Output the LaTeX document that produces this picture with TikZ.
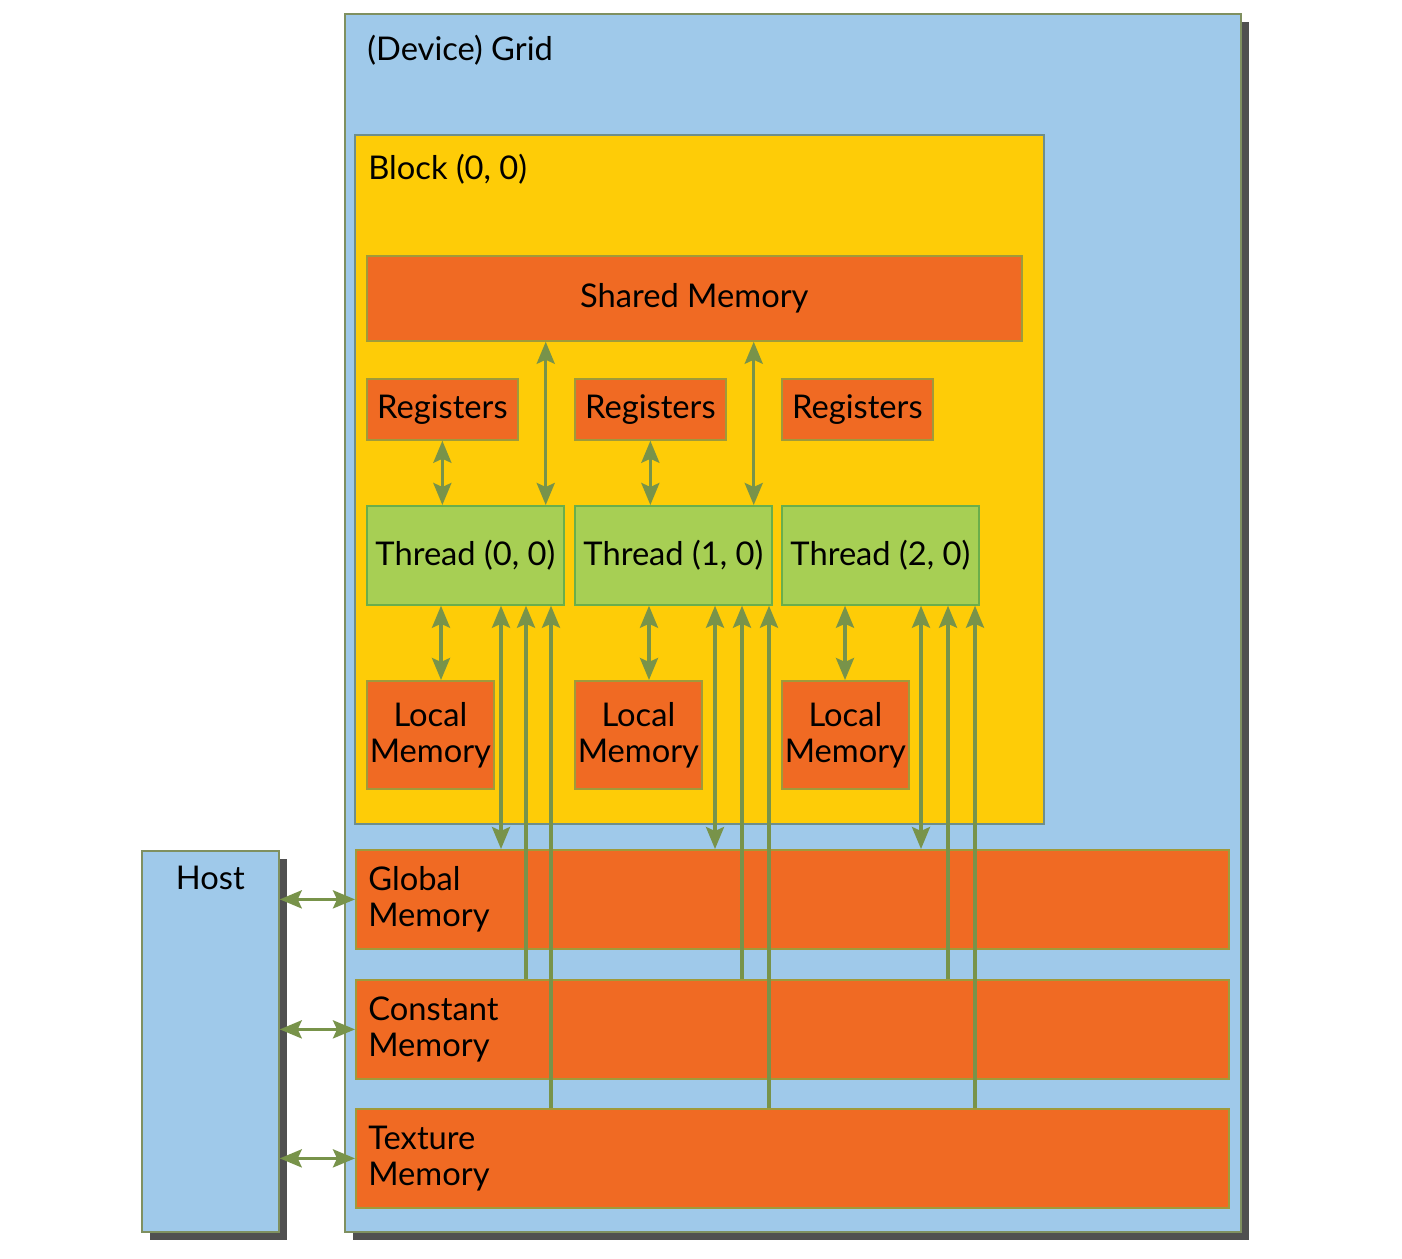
\documentclass[tikz,border=0pt]{standalone}
\usepackage{fontspec}
\setmainfont{Lato}
\usetikzlibrary{arrows.meta,shadows}

\definecolor{gridblue}{HTML}{9FC9EA}
\definecolor{gridedge}{HTML}{7F9060}
\definecolor{blockyellow}{HTML}{FECC07}
\definecolor{blockedge}{HTML}{6F8E8A}
\definecolor{memorange}{HTML}{F06A23}
\definecolor{memedge}{HTML}{A09A3A}
\definecolor{threadgreen}{HTML}{A7CF54}
\definecolor{threadedge}{HTML}{6AAE4B}
\definecolor{arrowgreen}{HTML}{78934A}
\definecolor{shadowgray}{HTML}{505050}

\begin{document}
\begin{tikzpicture}[
  x=0.02cm, y=-0.02cm,
  every node/.style={font=\fontsize{18.6}{20.5}\selectfont},
  frame/.style={draw, line width=1pt, rectangle, anchor=north west, inner sep=0pt},
  dark shadow/.style={drop shadow={shadow xshift=0.16cm, shadow yshift=-0.16cm, fill=shadowgray, opacity=1}},
  area/.style={frame, fill=gridblue, draw=gridedge},
  memory/.style={frame, fill=memorange, draw=memedge},
  thread/.style={frame, fill=threadgreen, draw=threadedge},
  lbl/.style={anchor=west, align=left, inner sep=0pt},
  tip/.tip={Stealth[length=0.44cm, width=0.36cm, inset=0.08cm]},
  dbl/.style={tip-tip, draw=arrowgreen, fill=arrowgreen, line width=1.9pt},
  one/.style={-tip, draw=arrowgreen, fill=arrowgreen, line width=1.9pt}
]
\useasboundingbox (0,0) rectangle (1402,1258);

% outer boxes
\node[area, dark shadow, minimum width=17.92cm, minimum height=24.36cm] (grid) at (344,13) {};
\node[area, dark shadow, minimum width=2.74cm, minimum height=7.62cm] (host) at (141,850) {};
\node[frame, fill=blockyellow, draw=blockedge, minimum width=13.78cm, minimum height=13.78cm] (block) at (354,134) {};

\node[lbl] (gridlbl) at ([shift={(23,37)}]grid.north west) {(Device) Grid};
\node[lbl] (blocklbl) at ([shift={(14,35)}]block.north west) {Block (0, 0)};
\node (hostlbl) at ([shift={(0,28)}]host.north) {Host};

% memories inside the block
\node[memory, minimum width=13.1cm, minimum height=1.7cm] (shared) at (366,255) {Shared Memory};
\foreach \i/\x in {0/366, 1/574, 2/781} {
  \node[memory, minimum width=3.02cm, minimum height=1.22cm] (reg\i) at (\x,378) {Registers};
  \node[thread, minimum width=3.94cm, minimum height=1.98cm] (thr\i) at (\x,505) {Thread (\i, 0)};
  \node[memory, align=center, minimum width=2.54cm, minimum height=2.16cm] (loc\i) at (\x,680) {Local\\Memory};
}

% device memories
\node[memory, minimum width=17.46cm, minimum height=1.98cm] (glob) at (355,849) {};
\node[memory, minimum width=17.46cm, minimum height=1.98cm] (const) at (355,979) {};
\node[memory, minimum width=17.46cm, minimum height=1.98cm] (tex) at (355,1108) {};
\node[lbl] (globlbl) at ([shift={(13,0)}]glob.west) {Global\\Memory};
\node[lbl] (constlbl) at ([shift={(13,0)}]const.west) {Constant\\Memory};
\node[lbl] (texlbl) at ([shift={(13,0)}]tex.west) {Texture\\Memory};

% connectors
\foreach \i in {0,1} {
  \draw[dbl] (reg\i.south) -- (reg\i.south |- thr\i.north);
  \path ([shift={(-19,0)}]thr\i.north east) coordinate (sm\i);
  \draw[dbl] (sm\i |- shared.south) -- (sm\i);
}
\foreach \i/\l/\g/\c/\t in {0/75/135/160/185, 1/75/141/168/195, 2/64/140/167/194} {
  \path ([shift={(\l,0)}]thr\i.south west) coordinate (lm\i)
        ([shift={(\g,0)}]thr\i.south west) coordinate (gm\i)
        ([shift={(\c,0)}]thr\i.south west) coordinate (cu\i)
        ([shift={(\t,0)}]thr\i.south west) coordinate (tu\i);
  \draw[dbl] (lm\i) -- (lm\i |- loc\i.north);
  \draw[dbl] (gm\i) -- (gm\i |- glob.north);
  \draw[one] (cu\i |- const.north) -- (cu\i);
  \draw[one] (tu\i |- tex.north) -- (tu\i);
}
\foreach \m in {glob, const, tex}
  \draw[dbl] (\m.west -| host.east) -- (\m.west);
\end{tikzpicture}
\end{document}
